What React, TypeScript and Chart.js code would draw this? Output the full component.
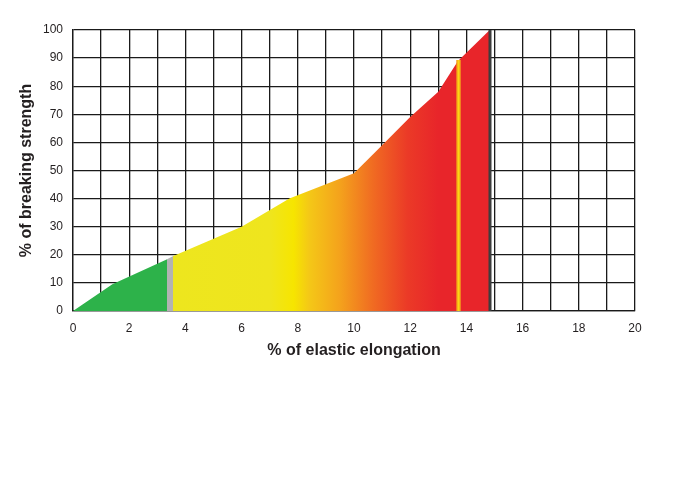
import { useEffect, useRef } from "react";
import { Chart, registerables } from "chart.js";

Chart.register(...registerables);

// curve: % elastic elongation -> % breaking strength
const elongation = [0, 1.4, 3.33, 3.55, 6, 7.7, 10, 11, 12, 13, 13.7, 14.83];
const strength = [0, 9.5, 18.3, 19.5, 30, 40, 49, 59, 69, 78, 89, 100];

// marker lines
const markerX = 13.72;
const markerTop = 89.3;
const limitX = 14.84;
const limitTop = 100;

const xTicks = [0, 2, 4, 6, 8, 10, 12, 14, 16, 18, 20];

// colour ramp along the x axis (value, colour)
const rampAt = [0, 3.33, 3.33, 3.55, 3.55, 7.0, 7.85, 8.4, 9.5, 10.7, 11.9, 13.0, 20];
const rampColor = [
  "#2db24a", "#2db24a", "#b3b3b3", "#b3b3b3", "#ede61e", "#efe51e",
  "#f6e500", "#f4c817", "#f4a21c", "#f06a22", "#eb3a27", "#e8252a", "#e8252a",
];

const FONT = "'Liberation Sans', Arial, sans-serif";

export default function App() {
  const canvasRef = useRef<HTMLCanvasElement>(null);

  useEffect(() => {
    const ctx = canvasRef.current!.getContext("2d")!;

    const fillColor = (c: any) => {
      const chart = c.chart;
      if (!chart.chartArea) return "#e8252a";
      const xs = chart.scales.x;
      const x0 = xs.getPixelForValue(0);
      const x1 = xs.getPixelForValue(20);
      const g = chart.ctx.createLinearGradient(x0, 0, x1, 0);
      rampAt.forEach((v, i) => g.addColorStop(v / 20, rampColor[i]));
      return g;
    };

    const chart = new Chart(ctx, {
      type: "line",
      data: {
        datasets: [
          {
            data: [{ x: limitX, y: 0 }, { x: limitX, y: limitTop }],
            borderColor: "#3d3d3d",
            borderWidth: 3,
            pointRadius: 0,
            fill: false,
            order: 0,
          },
          {
            data: [{ x: markerX, y: 0 }, { x: markerX, y: markerTop }],
            borderColor: "#fbd514",
            borderWidth: 2,
            pointRadius: 0,
            fill: false,
            order: 1,
          },
          {
            data: [{ x: markerX, y: 0 }, { x: markerX, y: markerTop }],
            borderColor: "#f49a1c",
            borderWidth: 4.5,
            pointRadius: 0,
            fill: false,
            order: 2,
          },
          {
            data: elongation.map((x, i) => ({ x, y: strength[i] })),
            borderWidth: 0,
            borderColor: "rgba(0,0,0,0)",
            backgroundColor: fillColor,
            pointRadius: 0,
            tension: 0,
            fill: "origin",
            order: 3,
          },
        ],
      },
      options: {
        responsive: false,
        animation: false,
        layout: { padding: { left: 0, top: 30, right: 39, bottom: 134 } },
        plugins: { legend: { display: false }, tooltip: { enabled: false } },
        scales: {
          x: {
            type: "linear",
            min: 0,
            max: 20,
            afterFit: (s: any) => {
              s.height = 55;
            },
            afterBuildTicks: (s: any) => {
              s.ticks = Array.from({ length: 21 }, (_, i) => ({ value: i }));
            },
            ticks: {
              autoSkip: false,
              maxRotation: 0,
              padding: 10,
              color: "#231f20",
              font: { family: FONT, size: 12 },
              callback: (v: any) => (xTicks.includes(Number(v)) ? String(v) : ""),
            },
            grid: { color: "#1a1a1a", lineWidth: 1.3, drawTicks: false },
            border: { color: "#1a1a1a", width: 1.3 },
            title: {
              display: true,
              text: "% of elastic elongation",
              color: "#231f20",
              font: { family: FONT, size: 16, weight: "bold" },
              padding: { top: 0, bottom: 6 },
            },
          },
          y: {
            min: 0,
            max: 100,
            afterFit: (s: any) => {
              s.width = 73;
            },
            ticks: {
              stepSize: 10,
              padding: 10,
              color: "#231f20",
              font: { family: FONT, size: 12 },
            },
            grid: { color: "#1a1a1a", lineWidth: 1.3, drawTicks: false },
            border: { color: "#1a1a1a", width: 1.3 },
            title: {
              display: true,
              text: "% of breaking strength",
              color: "#231f20",
              font: { family: FONT, size: 16, weight: "bold" },
              padding: { top: 17, bottom: 0 },
            },
          },
        },
      },
    } as any);

    return () => {
      chart.destroy();
    };
  }, []);

  return (
    <div style={{ position: "absolute", left: 0, top: 0, width: 674, height: 500, background: "#fff" }}>
      <canvas ref={canvasRef} width={674} height={500} />
    </div>
  );
}
